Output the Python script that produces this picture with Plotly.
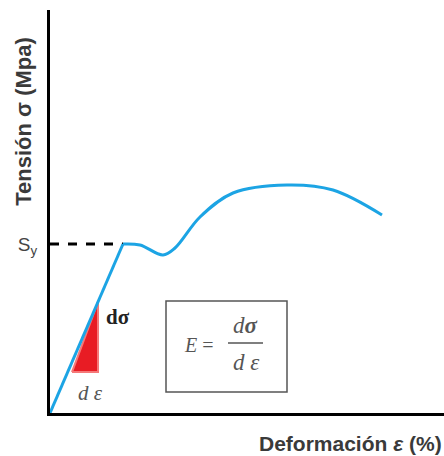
import plotly.graph_objects as go

# Elastic region (straight line) and plastic region (curve), arbitrary units
elastic_strain = [0, 73]
elastic_stress = [0, 169]
plastic_strain = [73, 90, 113, 125, 150, 183, 237, 283, 332]
plastic_stress = [169, 168, 158, 165, 196, 220, 228, 223, 198]
yield_stress = 169
yield_label = "S<sub>y</sub>"

x_title = "Deformación <i>ε</i> (%)"
y_title = "Tensión σ (Mpa)"

blue = "rgb(28,164,228)"
gray_text = "#3a3a3a"

fig = go.Figure()

# Red slope triangle derived from elastic slope
slope = elastic_stress[1] / elastic_strain[1]
tri_x0, tri_dx = 22, 26
tri_y0 = slope * tri_x0 - 10
tri_top = slope * (tri_x0 + tri_dx)
fig.add_trace(go.Scatter(
    x=[tri_x0, tri_x0 + tri_dx, tri_x0 + tri_dx, tri_x0],
    y=[tri_y0, tri_y0, tri_top, tri_y0],
    fill="toself", fillcolor="rgb(232,28,36)",
    line=dict(color="rgb(245,120,120)", width=2),
    mode="lines", hoverinfo="skip", showlegend=False))

fig.add_trace(go.Scatter(x=elastic_strain, y=elastic_stress, mode="lines",
                         line=dict(color=blue, width=3), showlegend=False))
fig.add_trace(go.Scatter(x=plastic_strain, y=plastic_stress, mode="lines",
                         line=dict(color=blue, width=3, shape="spline", smoothing=1.0),
                         showlegend=False))

# dashed yield line
fig.add_shape(type="line", x0=0, x1=elastic_strain[1], y0=yield_stress, y1=yield_stress,
              line=dict(color="black", width=3, dash="dash"), layer="below")

# formula box
fig.add_shape(type="rect", x0=116, x1=237, y0=21, y1=112,
              line=dict(color="#555", width=1.5))
fig.add_shape(type="line", x0=178, x1=213, y0=70, y1=70,
              line=dict(color="#555", width=1.5))

serif = "Liberation Serif"
fig.add_annotation(x=149, y=68, text="<i>E</i> =", showarrow=False,
                   font=dict(family=serif, size=20, color="#555"))
fig.add_annotation(x=195, y=88, text="<i>d</i><b><i>σ</i></b>", showarrow=False,
                   font=dict(family=serif, size=23, color="#555"))
fig.add_annotation(x=196, y=51, text="<i>d ε</i>", showarrow=False,
                   font=dict(family=serif, size=23, color="#555"))
fig.add_annotation(x=54, y=96, text="<b>dσ</b>", showarrow=False, xanchor="left",
                   font=dict(family=serif, size=21, color="#222"))
fig.add_annotation(x=40, y=20, text="<i>d ε</i>", showarrow=False,
                   font=dict(family=serif, size=21, color="#555"))

# axis titles
fig.add_annotation(xref="paper", yref="paper", x=-0.066, y=0.725,
                   xanchor="center", yanchor="middle",
                   text="<b>" + y_title + "</b>",
                   textangle=-90, showarrow=False,
                   font=dict(family="Liberation Sans", size=22, color=gray_text))
fig.add_annotation(xref="paper", yref="paper", x=1.0, y=-0.075,
                   xanchor="right", yanchor="middle",
                   text="<b>" + x_title + "</b>", showarrow=False,
                   font=dict(family="Liberation Sans", size=21, color=gray_text))

fig.update_layout(
    width=444, height=456,
    margin=dict(l=50, r=0, t=10, b=43),
    paper_bgcolor="white", plot_bgcolor="white",
    xaxis=dict(range=[0, 394], showgrid=False, zeroline=False, showticklabels=False,
               showline=True, linecolor="black", linewidth=3, ticks=""),
    yaxis=dict(range=[0, 403], showgrid=False, zeroline=False,
               tickvals=[yield_stress], ticktext=[yield_label], ticks="",
               ticklabelstandoff=6,
               tickfont=dict(family="Liberation Sans", size=19, color="#444"),
               showline=True, linecolor="black", linewidth=3),
)

fig.write_html("out.html", config={"displayModeBar": False},
               post_script="document.body.style.margin='0';document.body.style.overflow='hidden';")
